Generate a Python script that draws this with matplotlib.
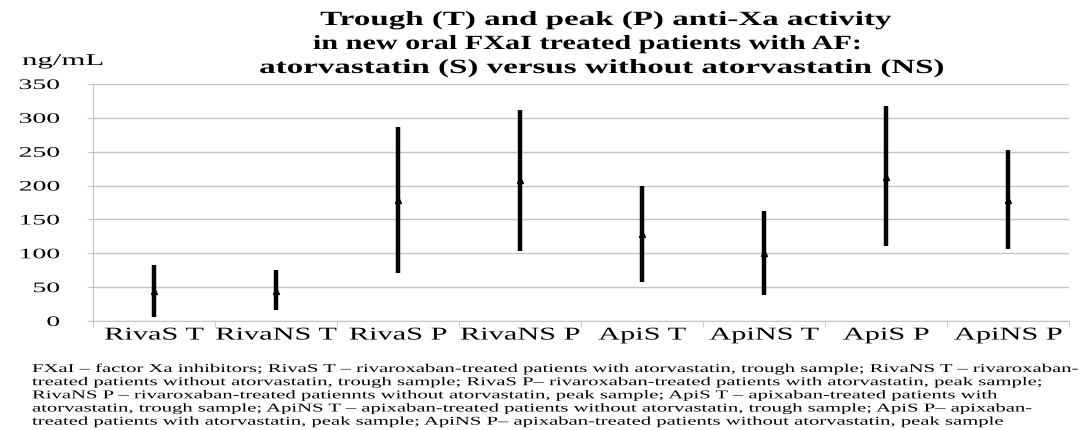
import matplotlib.pyplot as plt
import numpy as np
from matplotlib.patheffects import AbstractPathEffect
from matplotlib.transforms import Affine2D

plt.rcParams['font.family'] = ['Liberation Serif', 'DejaVu Serif']

# anti-Xa activity (ng/mL): low end, marker, high end of each range
groups = ['RivaS T', 'RivaNS T', 'RivaS P', 'RivaNS P', 'ApiS T', 'ApiNS T', 'ApiS P', 'ApiNS P']
low = [6, 16, 71, 104, 57, 39, 111, 107]
mid = [44, 44, 179, 208, 128, 100, 213, 178]
high = [83, 75, 287, 312, 199, 162, 317, 253]

title_lines = ['Trough (T) and peak (P) anti-Xa activity',
               'in new oral FXaI treated patients with AF:',
               'atorvastatin (S) versus without atorvastatin (NS)']

caption = [
    'FXaI \u2013 factor Xa inhibitors; RivaS T \u2013 rivaroxaban-treated patients with atorvastatin, trough sample; RivaNS T \u2013 rivaroxaban-',
    'treated patients without atorvastatin, trough sample; RivaS P\u2013 rivaroxaban-treated patients with atorvastatin, peak sample;',
    'RivaNS P \u2013 rivaroxaban-treated patiennts without atorvastatin, peak sample; ApiS T \u2013 apixaban-treated patients with',
    'atorvastatin, trough sample; ApiNS T \u2013 apixaban-treated patients without atorvastatin, trough sample; ApiS P\u2013 apixaban-',
    'treated patients with atorvastatin, peak sample; ApiNS P\u2013 apixaban-treated patients without atorvastatin, peak sample',
]


# the source image is stretched sideways, so widen the glyphs the same way
class Stretch(AbstractPathEffect):
    def __init__(self, sx, anchor='left'):
        super().__init__()
        self.sx = sx
        self.anchor = anchor

    def draw_path(self, renderer, gc, tpath, affine, rgbFace=None):
        ext = tpath.get_extents()
        cx = {'left': 0, 'center': (ext.x0 + ext.x1) / 2, 'right': ext.x1}[self.anchor]
        t = Affine2D().translate(-cx, 0).scale(self.sx, 1).translate(cx, 0) + affine
        renderer.draw_path(gc, tpath, t, rgbFace)


W, H = 1081, 430
fig = plt.figure(figsize=(W / 100, H / 100), dpi=100)
ax = fig.add_axes([93 / W, 1 - 321 / H, 976 / W, 237 / H])

x = np.arange(len(groups))
ax.vlines(x, low, high, color='black', lw=3.2)
ax.plot(x, mid, linestyle='none', marker='^', color='black', markersize=5)

grid_c = '#c4c4c4'
ax.set_xlim(-0.5, len(groups) - 0.5)
ax.set_ylim(0, 350)
ax.set_yticks(range(0, 351, 50))
ax.yaxis.grid(True, color=grid_c, lw=1)
ax.set_axisbelow(True)
ax.set_xticks(x)
ax.set_xticklabels(groups, fontsize=13)
ax.set_xticks(np.arange(-0.5, len(groups)), minor=True)
ax.tick_params(axis='x', which='major', length=0, pad=4)
ax.tick_params(axis='x', which='minor', length=4, color=grid_c)
ax.tick_params(axis='y', length=4, color=grid_c, labelsize=10.5, pad=20)
for lbl in ax.get_xticklabels():
    lbl.set_path_effects([Stretch(1.68, 'center')])
for lbl in ax.get_yticklabels():
    lbl.set_path_effects([Stretch(1.9, 'right')])
for s in ['top', 'right']:
    ax.spines[s].set_visible(False)
for s in ['left', 'bottom']:
    ax.spines[s].set_color(grid_c)

title_x = [606, 587, 602]
title_sx = [1.64, 1.5, 1.64]
for i, line in enumerate(title_lines):
    fig.text(title_x[i] / W, 1 - (25 + 24 * i) / H, line, fontsize=14.5,
             fontweight='bold', ha='center', va='baseline',
             path_effects=[Stretch(title_sx[i], 'center')])
fig.text(22 / W, 1 - 65 / H, 'ng/mL', fontsize=12, ha='left', va='baseline',
         path_effects=[Stretch(1.85)])

fig.text(32 / W, 1 - 363 / H, '\n'.join(caption), fontsize=8.6,
         ha='left', va='top', linespacing=1.13, path_effects=[Stretch(1.73)])

fig.savefig('out.png', dpi=100)
